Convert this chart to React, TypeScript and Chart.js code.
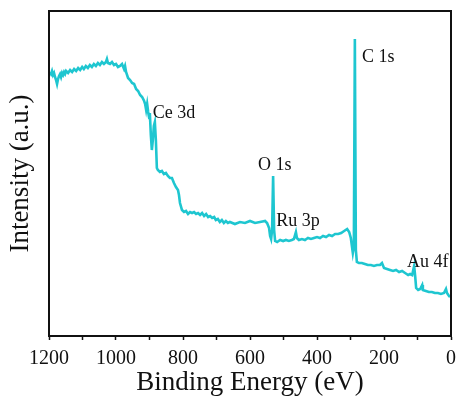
import React, { useEffect, useRef } from "react";
import { Chart, registerables } from "chart.js";

Chart.register(...registerables);

// XPS survey spectrum: binding energy (eV) and intensity (a.u.)
const bindingEnergy = [
  1197, 1194, 1191, 1188, 1185, 1182, 1179, 1176, 1173, 1170, 1167, 1164, 1161, 1158, 1155, 1152, 1149,
  1143, 1137, 1131, 1125, 1119, 1113, 1107, 1101, 1096, 1090, 1084, 1078, 1072, 1066, 1060, 1054, 1048,
  1042, 1036, 1030, 1027, 1024, 1018, 1012, 1006, 1000, 994, 988, 982, 976, 973, 970, 964, 958, 952, 946,
  940, 934, 928, 922, 916, 913, 910, 907, 904, 901, 899, 896, 893, 890, 887, 884, 881, 878, 875, 869, 863,
  857, 851, 845, 839, 833, 827, 821, 815, 812, 809, 803, 797, 791, 785, 779, 773, 767, 761, 755, 749, 743,
  737, 731, 725, 719, 713, 707, 702, 696, 690, 684, 678, 672, 666, 660, 645, 630, 615, 600, 585, 570, 555,
  549, 543, 540, 537, 534, 531, 528, 525, 519, 510, 501, 493, 484, 475, 469, 463, 460, 454, 445, 436, 427,
  418, 409, 400, 391, 382, 373, 364, 355, 346, 337, 328, 319, 310, 304, 299, 293, 290, 287, 284, 281, 275,
  266, 257, 248, 239, 230, 221, 212, 206, 200, 191, 182, 173, 164, 155, 146, 137, 128, 122, 116, 110, 107,
  104, 98, 92, 86, 84, 75, 66, 57, 48, 39, 30, 21, 15, 12, 6, 3,
];

const intensity = [
  264, 262, 265, 261, 263, 259, 256, 252, 257, 260, 262, 259, 263, 261, 264, 262, 265,
  263, 266, 264, 267, 265, 268, 266, 269, 267, 270, 268, 271, 269, 272, 270, 273, 271,
  274, 272, 274, 277, 273, 272, 274, 271, 272, 269, 270, 272, 267, 270, 264, 258, 256, 253, 252,
  247, 245, 241, 239, 235, 232, 226, 232, 224, 218, 223, 201, 186, 196, 210, 214, 196, 168, 166, 164, 165,
  162, 163, 160, 158, 158, 153, 149, 146, 141, 133, 126, 124, 125, 122, 124, 123, 124, 122, 123, 121, 123,
  120, 122, 119, 120, 118, 119, 116, 117, 114, 116, 113, 115, 113, 114, 112, 114, 113, 115, 113, 114, 115,
  113, 108, 100, 97, 106, 160, 106, 95, 94, 96, 95, 96, 95, 96, 97, 104, 98, 96, 97, 96, 98,
  97, 98, 99, 98, 100, 99, 101, 100, 102, 102, 103, 105, 107, 104, 98, 83, 89, 297, 86, 74, 73,
  73, 72, 71, 71, 70, 71, 71, 73, 68, 67, 66, 65, 66, 64, 65, 63, 61, 62, 61, 70, 60,
  48, 46, 47, 51, 46, 45, 44, 44, 43, 43, 42, 43, 47, 43, 40, 39,
];

// Peak labels: text, binding energy and intensity where the label sits
const peakNames = ["Ce 3d", "O 1s", "Ru 3p", "C 1s", "Au 4f"];
const peakLabelEnergy = [890, 576, 522, 266, 131];
const peakLabelIntensity = [223, 171, 115, 279, 74];

const xTicks = [1200, 1000, 800, 600, 400, 200, 0];

const SERIF = "'Times New Roman', 'Liberation Serif', serif";
const LINE_COLOR = "#1ec6d0";

const frameAndLabels = {
  id: "frameAndLabels",
  afterDatasetsDraw(chart: any) {
    const { ctx, scales } = chart;
    ctx.save();
    ctx.fillStyle = "#111";
    ctx.font = `18px ${SERIF}`;
    ctx.textAlign = "left";
    ctx.textBaseline = "middle";
    peakNames.forEach((name, i) => {
      const x = scales.x.getPixelForValue(peakLabelEnergy[i]);
      const y = scales.y.getPixelForValue(peakLabelIntensity[i]);
      ctx.fillText(name, x, y);
    });
    ctx.restore();
  },
  afterDraw(chart: any) {
    const { ctx, chartArea } = chart;
    ctx.save();
    ctx.strokeStyle = "#111";
    ctx.lineWidth = 2;
    ctx.strokeRect(
      chartArea.left,
      chartArea.top,
      chartArea.right - chartArea.left,
      chartArea.bottom - chartArea.top
    );
    ctx.restore();
  },
};

export default function App() {
  const canvasRef = useRef<HTMLCanvasElement | null>(null);

  useEffect(() => {
    if (!canvasRef.current) return;
    const points = bindingEnergy.map((e, i) => ({ x: e, y: intensity[i] }));
    const chart = new Chart(canvasRef.current, {
      type: "line",
      data: {
        datasets: [
          {
            data: points,
            borderColor: LINE_COLOR,
            borderWidth: 2.6,
            pointRadius: 0,
            tension: 0,
            fill: false,
          },
        ],
      },
      options: {
        animation: false,
        responsive: false,
        events: [],
        layout: { padding: { top: 11, right: 7, left: 0, bottom: 0 } },
        plugins: {
          legend: { display: false },
          tooltip: { enabled: false },
        },
        scales: {
          x: {
            type: "linear",
            reverse: true,
            min: 0,
            max: 1200,
            afterFit(scale: any) {
              scale.height = 64;
              // side margins come from the layout padding only
              scale.paddingLeft = 0;
              scale.paddingRight = 0;
            },
            ticks: {
              stepSize: 100,
              autoSkip: false,
              maxRotation: 0,
              padding: 7,
              color: "#111",
              font: { family: SERIF, size: 20 },
              callback: (v: any) => (xTicks.includes(Number(v)) ? String(v) : ""),
            },
            grid: {
              display: true,
              drawOnChartArea: false,
              drawTicks: true,
              tickLength: 4,
              tickColor: "#111",
              tickWidth: 1.5,
            },
            border: { display: true, color: "#111", width: 2 },
            title: {
              display: true,
              text: "Binding Energy (eV)",
              color: "#111",
              font: { family: SERIF, size: 27 },
              padding: { top: 0, bottom: 1 },
            },
          },
          y: {
            type: "linear",
            min: 0,
            max: 325,
            afterFit(scale: any) {
              scale.width = 49;
            },
            ticks: { display: false },
            grid: { display: false },
            border: { display: true, color: "#111", width: 2 },
            title: {
              display: true,
              text: "Intensity (a.u.)",
              color: "#111",
              font: { family: SERIF, size: 27 },
              padding: { top: 5, bottom: 0 },
            },
          },
        },
      },
      plugins: [frameAndLabels],
    });
    return () => chart.destroy();
  }, []);

  return (
    <div style={{ position: "absolute", left: 0, top: 0, width: 458, height: 400, background: "#fff" }}>
      <canvas ref={canvasRef} width={458} height={400} />
    </div>
  );
}
